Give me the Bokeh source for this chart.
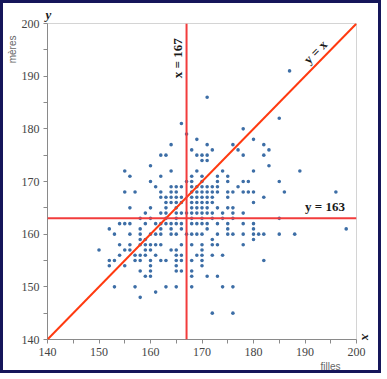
import math
from bokeh.plotting import figure
from bokeh.models import FixedTicker, Label, Span, Range1d, Slope, Title
from bokeh.embed import file_html
from bokeh.resources import INLINE

# heights (cm): daughters (filles) on x, mothers (meres) on y
filles = [
    187,
    171,
    185,
    166,
    178,
    167,
    169, 180,
    164, 171, 176, 182,
    168, 172, 177, 183,
    162, 163, 169, 170, 171, 178, 182,
    170, 171,
    160, 183,
    155, 164, 169, 174, 180, 189,
    156, 162, 168, 170, 173, 175,
    160, 167, 168, 170, 173, 175, 178, 179, 185,
    161, 164, 165, 166, 168, 169, 170, 171, 172, 173, 177,
    155, 157, 162, 164, 165, 168, 169, 170, 171, 172, 173, 175, 176, 178, 179, 180, 186, 196,
    162, 163, 164, 165, 166, 168, 169, 170, 171, 172, 175, 182,
    163, 164, 165, 166, 168, 169, 170, 171, 172, 180,
    156, 160, 163, 165, 168, 169, 170, 171, 173, 175, 176,
    159, 162, 163, 165, 166, 167, 168, 169, 170, 171, 172, 174, 176, 178,
    158, 160, 163, 165, 168, 170, 172, 174, 176, 185,
    154, 155, 156, 159, 161, 162, 163, 164, 165, 166, 168, 169, 170, 171, 173, 175, 178, 180,
    152, 158, 162, 164, 166, 171, 175, 180, 198,
    153, 156, 158, 160, 161, 162, 164, 165, 167, 168, 169, 170, 173, 175, 176, 178, 180, 181, 182, 185, 188,
    158, 159, 172, 180,
    154, 156, 158, 159, 160, 161, 162, 166, 168, 170, 172, 173, 178,
    150, 155, 156, 159, 160, 164, 165, 170,
    154, 157, 158, 159, 161, 165, 166, 169, 170, 172, 174,
    152, 153, 157, 158, 160, 162, 163, 165, 166, 168, 170, 182,
    152, 155, 160, 165, 170,
    158, 160, 165, 166, 168,
    159, 160, 168, 171, 173,
    153, 157, 163, 165, 168, 174, 176,
    161,
    158,
    172, 176,
]
meres = [
    191,
    186,
    182,
    181,
    180,
    179,
    178, 178,
    177, 177, 177, 177,
    176, 176, 176, 176,
    175, 175, 175, 175, 175, 175, 175,
    174, 174,
    173, 173,
    172, 172, 172, 172, 172, 172,
    171, 171, 171, 171, 171, 171,
    170, 170, 170, 170, 170, 170, 170, 170, 170,
    169, 169, 169, 169, 169, 169, 169, 169, 169, 169, 169,
    168, 168, 168, 168, 168, 168, 168, 168, 168, 168, 168, 168, 168, 168, 168, 168, 168, 168,
    167, 167, 167, 167, 167, 167, 167, 167, 167, 167, 167, 167,
    166, 166, 166, 166, 166, 166, 166, 166, 166, 166,
    165, 165, 165, 165, 165, 165, 165, 165, 165, 165, 165,
    164, 164, 164, 164, 164, 164, 164, 164, 164, 164, 164, 164, 164, 164,
    163, 163, 163, 163, 163, 163, 163, 163, 163, 163,
    162, 162, 162, 162, 162, 162, 162, 162, 162, 162, 162, 162, 162, 162, 162, 162, 162, 162,
    161, 161, 161, 161, 161, 161, 161, 161, 161,
    160, 160, 160, 160, 160, 160, 160, 160, 160, 160, 160, 160, 160, 160, 160, 160, 160, 160, 160, 160, 160,
    159, 159, 159, 159,
    158, 158, 158, 158, 158, 158, 158, 158, 158, 158, 158, 158, 158,
    157, 157, 157, 157, 157, 157, 157, 157,
    156, 156, 156, 156, 156, 156, 156, 156, 156, 156, 156,
    155, 155, 155, 155, 155, 155, 155, 155, 155, 155, 155, 155,
    154, 154, 154, 154, 154,
    153, 153, 153, 153, 153,
    152, 152, 152, 152, 152,
    150, 150, 150, 150, 150, 150, 150,
    149,
    148,
    145, 145,
]
assert len(filles) == len(meres)

mean_filles = 167
mean_meres = 163
axis_min, axis_max = 140, 200
major_ticks = [140, 150, 160, 170, 180, 190, 200]
minor_ticks = [145, 155, 165, 175, 185, 195]

p = figure(width=381, height=373, output_backend="svg", toolbar_location=None,
           x_range=Range1d(axis_min, axis_max), y_range=Range1d(axis_min, axis_max),
           min_border_left=44, min_border_right=28, min_border_top=20, min_border_bottom=37,
           styles={"border": "3px solid #15165a"})
p.grid.visible = False
p.outline_line_color = "#d4d4d4"
p.background_fill_color = "white"
p.border_fill_color = "white"

for ax in (p.xaxis[0], p.yaxis[0]):
    ax.ticker = FixedTicker(ticks=major_ticks, minor_ticks=minor_ticks)
    ax.axis_line_color = "#8a8a8a"
    ax.major_tick_line_color = "#8a8a8a"
    ax.minor_tick_line_color = "#8a8a8a"
    ax.major_tick_out = 4
    ax.major_tick_in = 0
    ax.minor_tick_out = 4
    ax.minor_tick_in = 0
    ax.major_label_text_font = "Liberation Sans Narrow"
    ax.major_label_text_font_size = "12px"
    ax.major_label_text_color = "#444444"
    ax.major_label_standoff = 4

p.scatter(filles, meres, size=3.6, color="#3d6ea6", line_color=None)

p.add_layout(Slope(gradient=1, y_intercept=0, line_color="#ff3a10", line_width=2))
p.add_layout(Span(location=mean_filles, dimension="height", line_color="#f23c3c", line_width=2))
p.add_layout(Span(location=mean_meres, dimension="width", line_color="#f23c3c", line_width=2))

serif = "Liberation Serif"
p.add_layout(Label(x=mean_filles, y=193.4, x_offset=-9, text="x = 167", angle=math.pi / 2,
                   text_align="center", text_baseline="middle", text_font=serif,
                   text_font_style="bold", text_font_size="13px", text_color="#1a1a1a"))
p.add_layout(Label(x=190, y=mean_meres, y_offset=4, text="y = 163", text_align="left",
                   text_baseline="bottom", text_font=serif, text_font_style="bold",
                   text_font_size="13px", text_color="#1a1a1a"))
p.add_layout(Label(x=192, y=194.6, text="y = x", angle=math.atan2(316, 309),
                   text_align="center", text_baseline="middle", text_font=serif,
                   text_font_style="bold", text_font_size="13px", text_color="#1a1a1a"))

# axis names outside the frame
p.add_layout(Title(text="y", align="left", offset=-2, standoff=3, text_font=serif,
                   text_font_style="bold italic", text_font_size="13px",
                   text_color="#1a1a1a"), "above")
p.add_layout(Title(text="mères", align="right", offset=12, standoff=2,
                   text_font="Liberation Sans", text_font_style="normal",
                   text_font_size="10px", text_color="#666666"), "left")
p.add_layout(Title(text="filles", align="right", offset=16, standoff=0,
                   text_font="Liberation Sans", text_font_style="normal",
                   text_font_size="10px", text_color="#666666"), "below")
p.add_layout(Title(text="x", align="right", offset=-1, standoff=5, text_font=serif,
                   text_font_style="bold italic", text_font_size="13px",
                   text_color="#1a1a1a"), "right")

open("out.html", "w").write(file_html(p, INLINE))
